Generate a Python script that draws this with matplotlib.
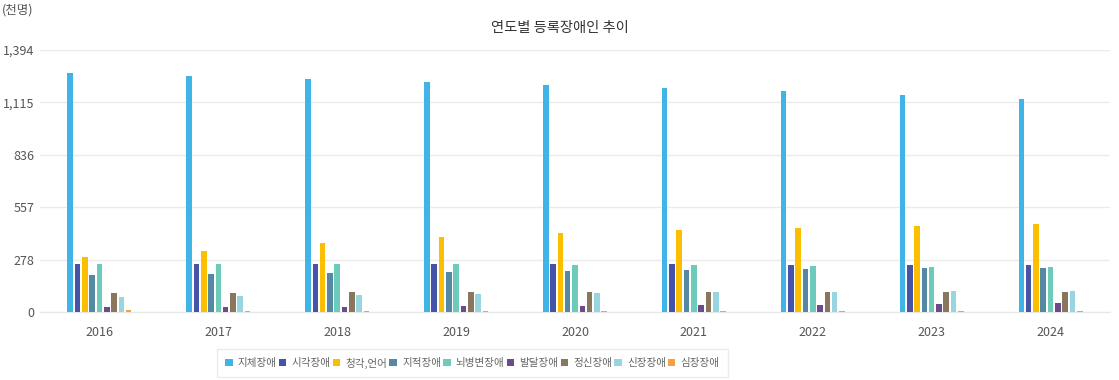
import numpy as np
import matplotlib
matplotlib.use('Agg')
import matplotlib.pyplot as plt
from matplotlib.ticker import FuncFormatter

plt.rcParams['font.family'] = ['Noto Sans CJK KR', 'DejaVu Sans']

# Data (thousand persons)
years = ['2016', '2017', '2018', '2019', '2020', '2021', '2022', '2023', '2024']
categories = ['지체장애', '시각장애', '청각,언어', '지적장애', '뇌병변장애',
              '발달장애', '정신장애', '신장장애', '심장장애']
jiche = [1271, 1256, 1240, 1224, 1208, 1192, 1176, 1155, 1134]
sigak = [253, 253, 254, 252, 253, 253, 248, 248, 248]
cheonggak = [290, 322, 367, 399, 420, 436, 447, 458, 469]
jijeok = [196, 200, 206, 212, 216, 221, 226, 232, 232]
noebyeong = [253, 253, 253, 252, 248, 248, 242, 237, 237]
baldal = [23, 23, 25, 30, 30, 35, 35, 41, 46]
jeongsin = [98, 98, 105, 103, 105, 105, 105, 105, 105]
sinjang = [76, 81, 87, 94, 100, 105, 105, 110, 110]
simjang = [7, 6, 5, 5, 5, 5, 5, 5, 5]
series = [jiche, sigak, cheonggak, jijeok, noebyeong, baldal, jeongsin, sinjang, simjang]

colors = ['#41b4e7', '#4553a9', '#fbbe00', '#5588a3', '#6ccbba',
          '#6d4b8b', '#88765e', '#97d6e1', '#f6a23c']
y_ticks = [0, 278, 557, 836, 1115, 1394]

fig = plt.figure(figsize=(11.19, 3.80), dpi=100)
ax = fig.add_axes([40 / 1119, 1 - 311.7 / 380, 1070 / 1119, 261.7 / 380])

x = np.arange(len(years))
step = 0.0614
width = 0.047
for i, (vals, col, name) in enumerate(zip(series, colors, categories)):
    offs = (i - 4) * step
    ax.bar(x + offs, vals, width=width, color=col, label=name, zorder=3)

ax.set_xlim(-0.5, len(years) - 0.5)
ax.set_ylim(0, 1394)
ax.set_yticks(y_ticks)
ax.yaxis.set_major_formatter(FuncFormatter(lambda v, p: f'{int(v):,}'))
ax.set_xticks(x)
ax.set_xticklabels(years)
ax.grid(axis='y', color='#ebebeb', linewidth=1, zorder=0)
for s in ['top', 'right', 'left']:
    ax.spines[s].set_visible(False)
ax.spines['bottom'].set_color('#e6e6e6')
ax.tick_params(axis='both', length=0, labelsize=9, colors='#555555')
ax.tick_params(axis='x', pad=10)
ax.tick_params(axis='y', pad=4)

fig.text(0.5, 1 - 28 / 380, '연도별 등록장애인 추이', ha='center', va='center',
         fontsize=10.3, color='#333333')
fig.text(2 / 1119, 1 - 10 / 380, '(천명)', ha='left', va='center',
         fontsize=9, color='#555555')

leg = fig.legend(loc='center', bbox_to_anchor=(472.5 / 1119, 1 - 363 / 380),
                 ncol=9, fontsize=7.6, frameon=True, handlelength=0.7,
                 handleheight=0.7, handletextpad=0.5, columnspacing=0.2,
                 borderpad=0.8, fancybox=False)
leg.get_frame().set_edgecolor('#e6e6e6')
leg.get_frame().set_linewidth(1)
for t in leg.get_texts():
    t.set_color('#666666')

fig.savefig('out.png', dpi=100)
